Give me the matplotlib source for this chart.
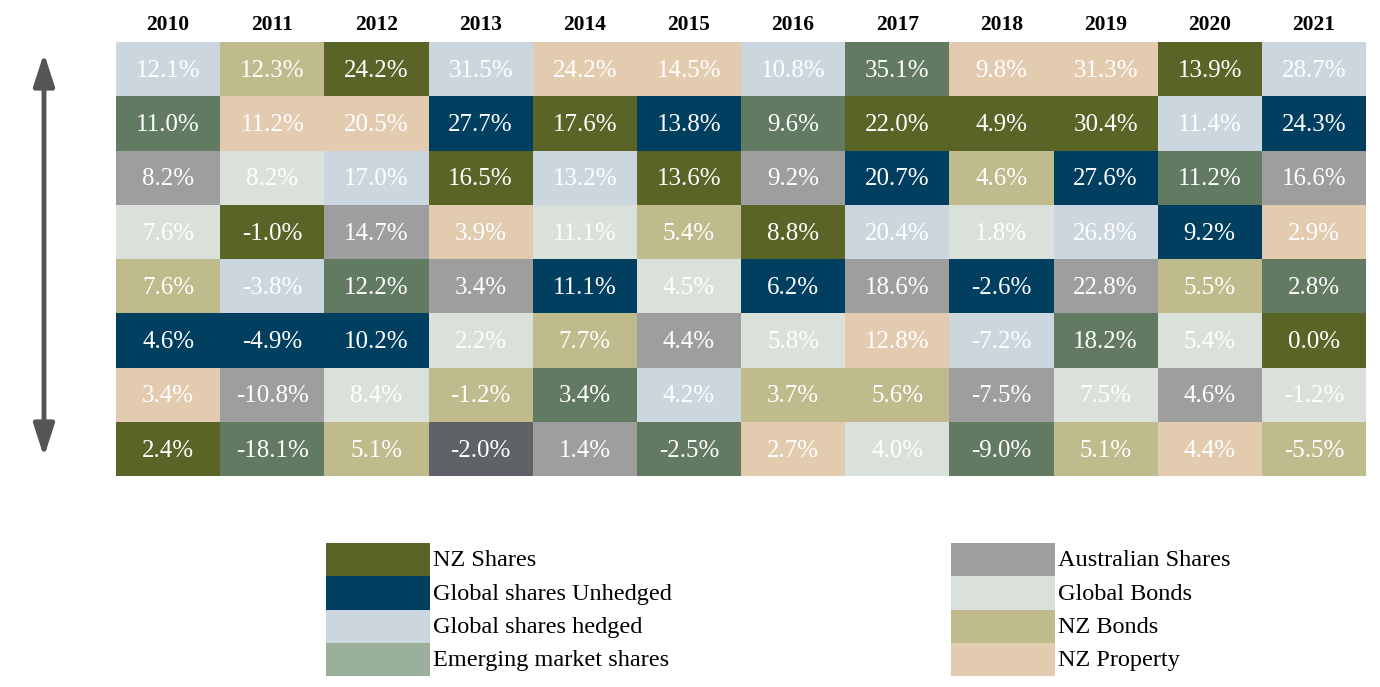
import matplotlib.pyplot as plt
from matplotlib.patches import Rectangle, FancyArrowPatch

years = ["2010", "2011", "2012", "2013", "2014", "2015",
         "2016", "2017", "2018", "2019", "2020", "2021"]

categories = ["NZ Shares", "Global shares Unhedged", "Global shares hedged",
              "Emerging market shares", "Australian Shares", "Global Bonds",
              "NZ Bonds", "NZ Property"]

cat_colors = {
    "NZ Shares": "#596426",
    "Global shares Unhedged": "#003F5F",
    "Global shares hedged": "#CCD6DF",
    "Emerging market shares": "#627A62",
    "Australian Shares": "#9E9E9E",
    "Global Bonds": "#DAE1DA",
    "NZ Bonds": "#BFBB8C",
    "NZ Property": "#E3CBAF",
}
legend_colors = dict(cat_colors)
legend_colors["Emerging market shares"] = "#9AB09A"

# short codes per column, best to worst
NZS, UNH, HED, EM, AUS, GB, NZB, PROP = categories

ranked_cats = [
    [HED, EM, AUS, GB, NZB, UNH, PROP, NZS],   # 2010
    [NZB, PROP, GB, NZS, HED, UNH, AUS, EM],   # 2011
    [NZS, PROP, HED, AUS, EM, UNH, GB, NZB],   # 2012
    [HED, UNH, NZS, PROP, AUS, GB, NZB, EM],   # 2013
    [PROP, NZS, HED, GB, UNH, NZB, EM, AUS],   # 2014
    [PROP, UNH, NZS, NZB, GB, AUS, HED, EM],   # 2015
    [HED, EM, AUS, NZS, UNH, GB, NZB, PROP],   # 2016
    [EM, NZS, UNH, HED, AUS, PROP, NZB, GB],   # 2017
    [PROP, NZS, NZB, GB, UNH, HED, AUS, EM],   # 2018
    [PROP, NZS, UNH, HED, AUS, EM, GB, NZB],   # 2019
    [NZS, HED, EM, UNH, NZB, GB, AUS, PROP],   # 2020
    [HED, UNH, AUS, PROP, EM, NZS, GB, NZB],   # 2021
]

ranked_vals = [
    [12.1, 11.0, 8.2, 7.6, 7.6, 4.6, 3.4, 2.4],
    [12.3, 11.2, 8.2, -1.0, -3.8, -4.9, -10.8, -18.1],
    [24.2, 20.5, 17.0, 14.7, 12.2, 10.2, 8.4, 5.1],
    [31.5, 27.7, 16.5, 3.9, 3.4, 2.2, -1.2, -2.0],
    [24.2, 17.6, 13.2, 11.1, 11.1, 7.7, 3.4, 1.4],
    [14.5, 13.8, 13.6, 5.4, 4.5, 4.4, 4.2, -2.5],
    [10.8, 9.6, 9.2, 8.8, 6.2, 5.8, 3.7, 2.7],
    [35.1, 22.0, 20.7, 20.4, 18.6, 12.8, 5.6, 4.0],
    [9.8, 4.9, 4.6, 1.8, -2.6, -7.2, -7.5, -9.0],
    [31.3, 30.4, 27.6, 26.8, 22.8, 18.2, 7.5, 5.1],
    [13.9, 11.4, 11.2, 9.2, 5.5, 5.4, 4.6, 4.4],
    [28.7, 24.3, 16.6, 2.9, 2.8, 0.0, -1.2, -5.5],
]

# one cell in the source has its own shade
color_override = {(3, 7): "#5F6267"}

serif = ["Liberation Serif", "DejaVu Serif"]

W, H = 1380, 687
fig = plt.figure(figsize=(W / 100, H / 100), dpi=100)

# grid area in pixels: x 116..1366, y 42..476
gx0, gx1, gy0, gy1 = 116, 1366, 42, 476
ax = fig.add_axes([gx0 / W, 1 - gy1 / H, (gx1 - gx0) / W, (gy1 - gy0) / H])
ax.set_xlim(0, len(years))
ax.set_ylim(8, 0)
ax.axis("off")

for i, yr in enumerate(years):
    for j in range(8):
        c = color_override.get((i, j), cat_colors[ranked_cats[i][j]])
        ax.add_patch(Rectangle((i, j), 1, 1, facecolor=c, edgecolor="none"))
        ax.text(i + 0.5, j + 0.53, f"{ranked_vals[i][j]:.1f}%", ha="center",
                va="center", color="white", fontsize=18, family=serif)
    ax.text(i + 0.5, -0.32, yr, ha="center", va="center", fontsize=15.5,
            fontweight="bold", family=serif, color="black")

# double headed arrow on the left
fig.patches.append(FancyArrowPatch(
    (44 / W, 1 - 457 / H), (44 / W, 1 - 53 / H), transform=fig.transFigure,
    arrowstyle="<|-|>,head_length=1.4,head_width=0.45", color="#555555",
    linewidth=3.5, mutation_scale=14, shrinkA=0, shrinkB=0))

# legend
lax = fig.add_axes([0, 0, 1, 1])
lax.set_xlim(0, W)
lax.set_ylim(H, 0)
lax.axis("off")
left_col = categories[:4]
right_col = categories[4:]
for col, x0 in ((left_col, 326), (right_col, 951)):
    for k, name in enumerate(col):
        y0 = 543 + k * 33.3
        lax.add_patch(Rectangle((x0, y0), 104, 33.3,
                                facecolor=legend_colors[name], edgecolor="none"))
        lax.text(x0 + 107, y0 + 18, name, ha="left", va="center",
                 fontsize=17.5, family=serif, color="black")

fig.savefig("out.png", dpi=100)
